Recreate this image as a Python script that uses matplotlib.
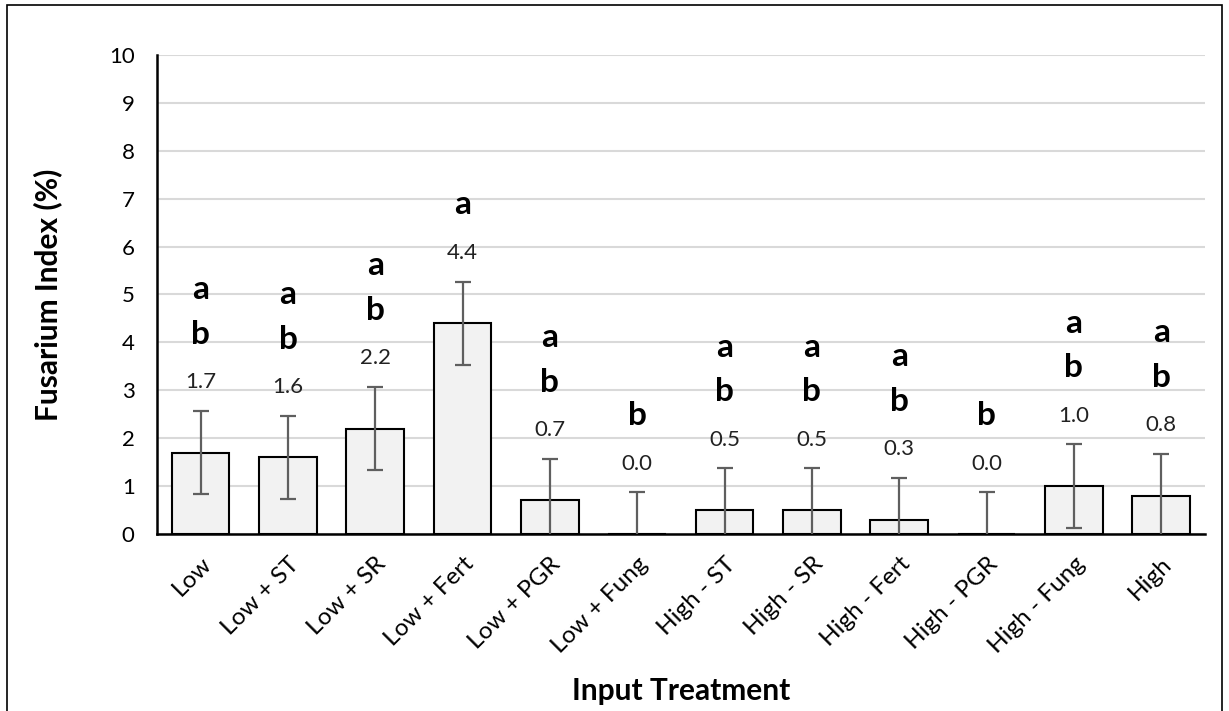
import numpy as np
import matplotlib.pyplot as plt
from matplotlib.patches import Rectangle

plt.rcParams['font.family'] = ['Lato', 'DejaVu Sans']

treatments = ['Low', 'Low + ST', 'Low + SR', 'Low + Fert', 'Low + PGR', 'Low + Fung',
              'High - ST', 'High - SR', 'High - Fert', 'High - PGR', 'High - Fung', 'High']
fusarium = [1.7, 1.6, 2.2, 4.4, 0.7, 0.0, 0.5, 0.5, 0.3, 0.0, 1.0, 0.8]
std_err = [0.87, 0.87, 0.87, 0.87, 0.87, 0.87, 0.87, 0.87, 0.87, 0.87, 0.87, 0.87]
letters = ['ab', 'ab', 'ab', 'a', 'ab', 'b', 'ab', 'ab', 'ab', 'b', 'ab', 'ab']

fig = plt.figure(figsize=(12.29, 7.11), dpi=100)
ax = fig.add_axes([0.1277, 0.249, 0.8527, 0.6736])

x = np.arange(len(treatments))
ax.bar(x, fusarium, width=0.66, color='#f2f2f2', edgecolor='black', linewidth=1.5, zorder=2)
ax.errorbar(x, fusarium, yerr=std_err, fmt='none', ecolor='#5f5f5f', elinewidth=1.6,
            capsize=6, capthick=1.6, zorder=3)

# mean value above each error bar, significance letters stacked above that
for i, (v, e, let) in enumerate(zip(fusarium, std_err, letters)):
    ly = v + e + 0.6
    ax.text(i, ly, f'{v:.1f}', ha='center', va='center', fontsize=16, color='#222222')
    y = ly + 1.0
    for ch in reversed(let):
        ax.text(i, y, ch, ha='center', va='center', fontsize=24, fontweight='bold')
        y += 0.93

ax.set_xlim(-0.5, len(treatments) - 0.5)
ax.set_ylim(0, 10)
ax.set_yticks(range(0, 11))
ax.yaxis.grid(True, color='#d9d9d9', linewidth=1.5, zorder=0)
ax.set_axisbelow(True)
for s in ['top', 'right']:
    ax.spines[s].set_visible(False)
ax.spines['left'].set_linewidth(1.8)
ax.spines['bottom'].set_linewidth(1.8)
ax.tick_params(axis='y', length=0, labelsize=16, pad=16)
ax.set_xticks(x)
ax.set_xticklabels(treatments, rotation=45, ha='right', rotation_mode='anchor')
ax.tick_params(axis='x', length=0, labelsize=17.5, pad=14)

ax.set_ylabel('Fusarium Index (%)', fontsize=21.5, fontweight='bold', labelpad=34)
ax.set_xlabel('Input Treatment', fontsize=21.5, fontweight='bold', labelpad=14)

fig.patches.append(Rectangle((0.006, -0.01), 0.988, 1.003, transform=fig.transFigure,
                             fill=False, edgecolor='black', linewidth=1.2))

fig.savefig('out.png', dpi=100)
